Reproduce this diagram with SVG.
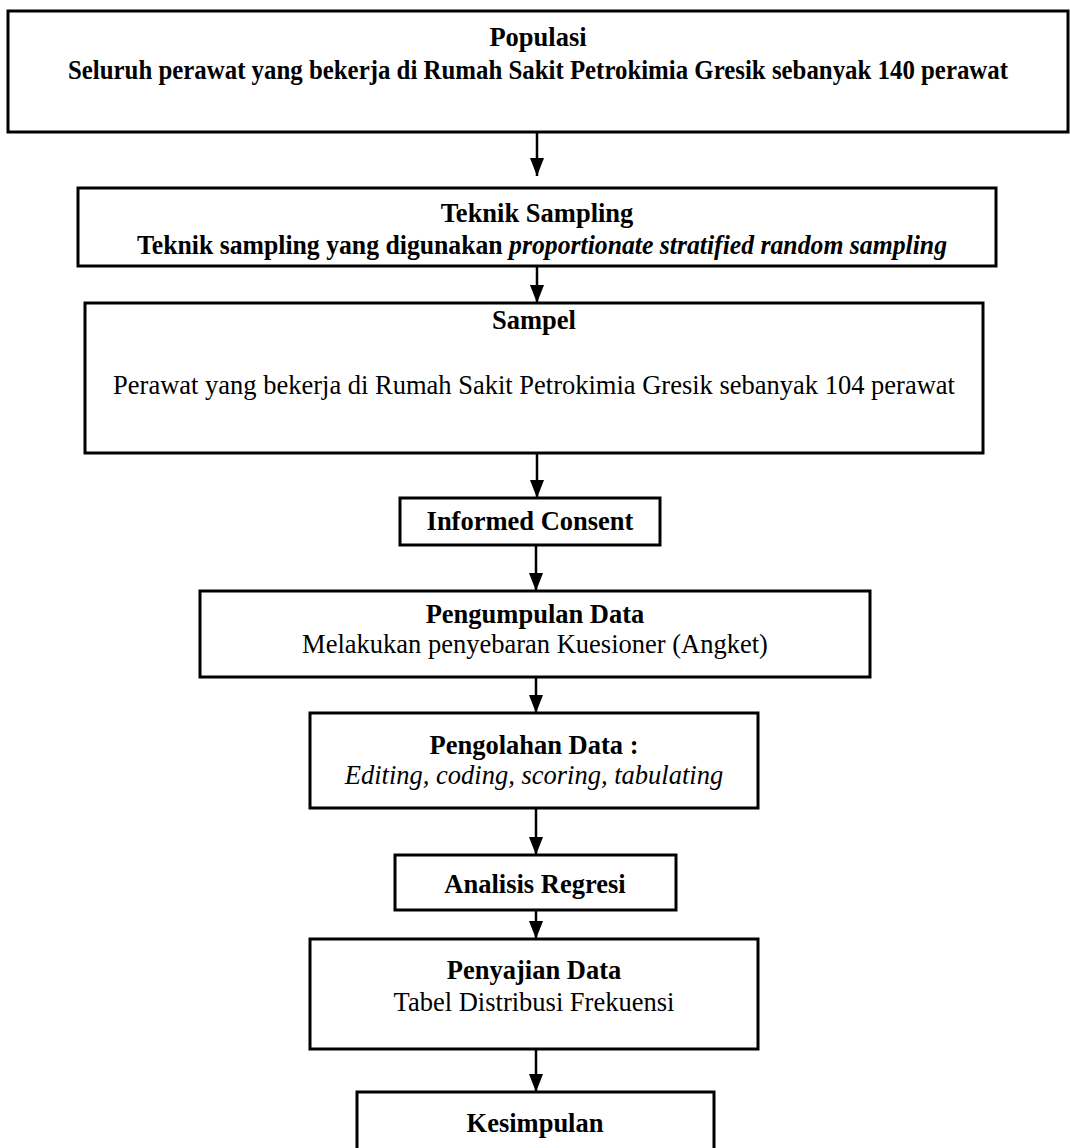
<svg xmlns="http://www.w3.org/2000/svg" width="1070" height="1148" viewBox="0 0 1070 1148">
<defs>
<marker id="ah" markerWidth="18" markerHeight="14" refX="18" refY="7" orient="auto" markerUnits="userSpaceOnUse" viewBox="0 0 18 14">
<path d="M0,0 L18,7 L0,14 Z" fill="#000"/>
</marker>
<style>
.box{fill:#fff;stroke:#000;stroke-width:3}
.t{font-family:"Liberation Serif","Times New Roman",serif;font-size:26.5px;fill:#000;text-anchor:middle}
.b{font-weight:bold}
.i{font-style:italic}
.c{stroke:#000;stroke-width:2.5;fill:none}
</style>
</defs>
<rect width="1070" height="1148" fill="#fff"/>
<g id="connectors">
<line class="c" x1="537" y1="132" x2="537" y2="176" marker-end="url(#ah)"/>
<line class="c" x1="537" y1="266" x2="537" y2="303" marker-end="url(#ah)"/>
<line class="c" x1="537" y1="453" x2="537" y2="498" marker-end="url(#ah)"/>
<line class="c" x1="536" y1="545" x2="536" y2="591" marker-end="url(#ah)"/>
<line class="c" x1="536" y1="677" x2="536" y2="713" marker-end="url(#ah)"/>
<line class="c" x1="536" y1="808" x2="536" y2="855" marker-end="url(#ah)"/>
<line class="c" x1="536" y1="910" x2="536" y2="939" marker-end="url(#ah)"/>
<line class="c" x1="536" y1="1049" x2="536" y2="1092" marker-end="url(#ah)"/>
</g>
<g id="populasi">
<rect class="box" x="8" y="11" width="1060" height="121"/>
<text class="t b" x="538" y="46">Populasi</text>
<text class="t b" x="538" y="79" textLength="940" lengthAdjust="spacingAndGlyphs">Seluruh perawat yang bekerja di Rumah Sakit Petrokimia Gresik sebanyak 140 perawat</text>
</g>
<g id="teknik">
<rect class="box" x="78" y="188" width="918" height="78"/>
<text class="t b" x="537" y="222">Teknik Sampling</text>
<text class="t b" x="542" y="254" textLength="810" lengthAdjust="spacingAndGlyphs">Teknik sampling yang digunakan <tspan class="i">proportionate stratified random sampling</tspan></text>
</g>
<g id="sampel">
<rect class="box" x="85" y="303" width="898" height="150"/>
<text class="t b" x="534" y="329">Sampel</text>
<text class="t" x="534" y="394">Perawat yang bekerja di Rumah Sakit Petrokimia Gresik sebanyak 104 perawat</text>
</g>
<g id="informed">
<rect class="box" x="400" y="498" width="260" height="47"/>
<text class="t b" x="530" y="530">Informed Consent</text>
</g>
<g id="pengumpulan">
<rect class="box" x="200" y="591" width="670" height="86"/>
<text class="t b" x="535" y="623">Pengumpulan Data</text>
<text class="t" x="535" y="653">Melakukan penyebaran Kuesioner (Angket)</text>
</g>
<g id="pengolahan">
<rect class="box" x="310" y="713" width="448" height="95"/>
<text class="t b" x="534" y="754">Pengolahan Data :</text>
<text class="t i" x="534" y="784">Editing, coding, scoring, tabulating</text>
</g>
<g id="analisis">
<rect class="box" x="395" y="855" width="281" height="55"/>
<text class="t b" x="535" y="893">Analisis Regresi</text>
</g>
<g id="penyajian">
<rect class="box" x="310" y="939" width="448" height="110"/>
<text class="t b" x="534" y="979">Penyajian Data</text>
<text class="t" x="534" y="1011">Tabel Distribusi Frekuensi</text>
</g>
<g id="kesimpulan">
<rect class="box" x="357" y="1092" width="357" height="70"/>
<text class="t b" x="535" y="1132">Kesimpulan</text>
</g>
</svg>
